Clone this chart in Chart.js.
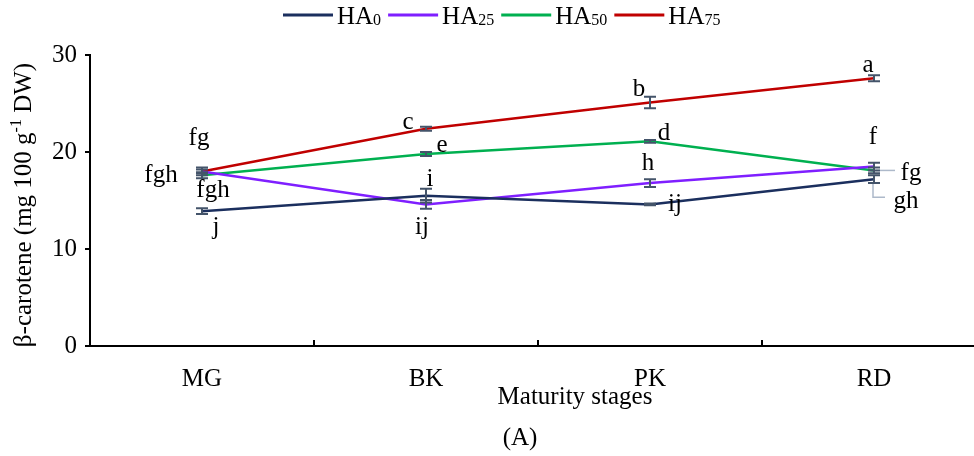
<!DOCTYPE html>
<html>
<head>
<meta charset="utf-8">
<script src="https://cdn.jsdelivr.net/npm/chart.js@4"></script>
<style>
  html, body { margin: 0; padding: 0; background: #fff; overflow: hidden; }
  #wrap { width: 986px; height: 456px; }
</style>
</head>
<body>
<div id="wrap"><canvas id="chart" width="986" height="456"></canvas></div>
<script>
// 資料
const categories = ["MG", "BK", "PK", "RD"];
const legendMain = "HA";
const legendSub = ["0", "25", "50", "75"];
const yTicks = [0, 10, 20, 30];

const ha0 = [13.9, 15.5, 14.6, 17.2];
const ha25 = [18.0, 14.6, 16.8, 18.5];
const ha50 = [17.6, 19.8, 21.1, 18.1];
const ha75 = [18.0, 22.4, 25.1, 27.6];

const ha0Err = [0.3, 0.7, 0.1, 0.4];
const ha25Err = [0.4, 0.45, 0.4, 0.4];
const ha50Err = [0.3, 0.2, 0.15, 0.3];
const ha75Err = [0.2, 0.2, 0.6, 0.3];

const ha0Letters = ["j", "i", "ij", "gh"];
const ha25Letters = ["fgh", "ij", "h", "f"];
const ha50Letters = ["fgh", "e", "d", "fg"];
const ha75Letters = ["fg", "c", "b", "a"];

// 樣式
const colors = ["#1b2f5e", "#7f1fff", "#00b050", "#c00000"];
const errColor = "#44546a";
const leaderColor = "#adb9ca";
const serif = "'Liberation Serif', 'Times New Roman', serif";
const fontSize = 25;

// letter offsets from the point, px
const letterOffsets = [
  [[14, 16], [4, -16], [25, 0], [32, 22]],
  [[11, 19], [-4, 23], [-2, -20], [-1, -29]],
  [[-41, 0], [16, -9], [14, -8], [37, 3]],
  [[-3, -33], [-18, -6], [-11, -13], [-6, -13]]
];

const errors = [ha0Err, ha25Err, ha50Err, ha75Err];
const letters = [ha0Letters, ha25Letters, ha50Letters, ha75Letters];

// 誤差線 + 字母標記 + 圖例 + 軸標題
const extrasPlugin = {
  id: "extras",
  afterDatasetsDraw(chart) {
    const ctx = chart.ctx;
    const xs = chart.scales.x;
    const ys = chart.scales.y;
    const area = chart.chartArea;

    // inner ticks between categories
    ctx.save();
    ctx.strokeStyle = "#000";
    ctx.lineWidth = 2;
    for (let i = 0; i < categories.length - 1; i++) {
      const x = Math.round(xs.getPixelForValue(i + 0.5));
      ctx.beginPath();
      ctx.moveTo(x, area.bottom);
      ctx.lineTo(x, area.bottom - 6);
      ctx.stroke();
    }
    ctx.restore();

    // leader lines at RD
    ctx.save();
    ctx.strokeStyle = leaderColor;
    ctx.lineWidth = 1.5;
    const rdX = xs.getPixelForValue(3);
    const y50 = ys.getPixelForValue(ha50[3]);
    ctx.beginPath();
    ctx.moveTo(rdX + 2, y50);
    ctx.lineTo(rdX + 21, y50);
    ctx.stroke();
    const y0 = ys.getPixelForValue(ha0[3]);
    ctx.beginPath();
    ctx.moveTo(rdX - 1, y0 + 3);
    ctx.lineTo(rdX - 1, y0 + 18);
    ctx.lineTo(rdX + 11, y0 + 18);
    ctx.stroke();
    ctx.restore();

    // error bars
    ctx.save();
    ctx.strokeStyle = errColor;
    ctx.lineWidth = 2;
    chart.data.datasets.forEach((ds, di) => {
      ds.data.forEach((v, i) => {
        const e = errors[di][i];
        const x = xs.getPixelForValue(i);
        const yt = ys.getPixelForValue(v + e);
        const yb = ys.getPixelForValue(v - e);
        ctx.beginPath();
        ctx.moveTo(x, yt); ctx.lineTo(x, yb);
        ctx.moveTo(x - 6, yt); ctx.lineTo(x + 6, yt);
        ctx.moveTo(x - 6, yb); ctx.lineTo(x + 6, yb);
        ctx.stroke();
      });
    });
    ctx.restore();

    // letters
    ctx.save();
    ctx.fillStyle = "#000";
    ctx.font = fontSize + "px " + serif;
    ctx.textAlign = "center";
    ctx.textBaseline = "middle";
    chart.data.datasets.forEach((ds, di) => {
      ds.data.forEach((v, i) => {
        const off = letterOffsets[di][i];
        const x = xs.getPixelForValue(i) + off[0];
        const y = ys.getPixelForValue(v) + off[1];
        ctx.fillText(letters[di][i], x, y);
      });
    });
    ctx.restore();
  },
  afterDraw(chart) {
    const ctx = chart.ctx;

    // legend
    ctx.save();
    ctx.textBaseline = "alphabetic";
    ctx.textAlign = "left";
    let x = 283;
    const ly = 15;
    legendSub.forEach((sub, i) => {
      ctx.strokeStyle = colors[i];
      ctx.lineWidth = 3;
      ctx.beginPath();
      ctx.moveTo(x, ly);
      ctx.lineTo(x + 50, ly);
      ctx.stroke();
      x += 54;
      ctx.fillStyle = "#000";
      ctx.font = fontSize + "px " + serif;
      ctx.fillText(legendMain, x, 24);
      x += ctx.measureText(legendMain).width;
      ctx.font = "16px " + serif;
      ctx.fillText(sub, x, 25);
      x += ctx.measureText(sub).width + 7;
    });
    ctx.restore();

    // y title with superscript
    ctx.save();
    ctx.fillStyle = "#000";
    ctx.translate(31, 205);
    ctx.rotate(-Math.PI / 2);
    ctx.textBaseline = "alphabetic";
    const parts = [
      { t: "β-carotene (mg 100 g", f: fontSize + "px " + serif, dy: 0 },
      { t: "-1", f: "16px " + serif, dy: -10 },
      { t: " DW)", f: fontSize + "px " + serif, dy: 0 }
    ];
    let total = 0;
    parts.forEach(p => { ctx.font = p.f; total += ctx.measureText(p.t).width; });
    let px = -total / 2;
    parts.forEach(p => {
      ctx.font = p.f;
      ctx.fillText(p.t, px, p.dy);
      px += ctx.measureText(p.t).width;
    });
    ctx.restore();

    // x title and panel label
    ctx.save();
    ctx.fillStyle = "#000";
    ctx.font = fontSize + "px " + serif;
    ctx.textAlign = "center";
    ctx.textBaseline = "middle";
    ctx.fillText("Maturity stages", 575, 397);
    ctx.fillText("(A)", 520, 438);
    ctx.restore();
  }
};

const datasets = [ha0, ha25, ha50, ha75].map((d, i) => ({
  label: legendMain + legendSub[i],
  data: d,
  borderColor: colors[i],
  backgroundColor: colors[i],
  borderWidth: 2.5,
  pointRadius: 0,
  tension: 0,
  fill: false
}));

new Chart(document.getElementById("chart").getContext("2d"), {
  type: "line",
  data: { labels: categories, datasets: datasets },
  options: {
    responsive: false,
    animation: false,
    devicePixelRatio: 1,
    layout: { padding: { top: 55, right: 0, left: 0, bottom: 0 } },
    plugins: {
      legend: { display: false },
      tooltip: { enabled: false }
    },
    scales: {
      x: {
        offset: true,
        grid: { display: false },
        border: { display: true, color: "#000", width: 2 },
        ticks: { color: "#000", font: { family: serif, size: fontSize }, padding: 10 },
        afterFit: s => { s.height = 110; }
      },
      y: {
        min: 0,
        max: 30,
        afterBuildTicks: s => { s.ticks = yTicks.map(v => ({ value: v })); },
        grid: { drawOnChartArea: false, color: "#000", lineWidth: 2, tickLength: 5 },
        border: { display: true, color: "#000", width: 2 },
        ticks: { color: "#000", font: { family: serif, size: fontSize }, padding: 8 },
        afterFit: s => { s.width = 90; }
      }
    }
  },
  plugins: [extrasPlugin]
});
</script>
</body>
</html>
